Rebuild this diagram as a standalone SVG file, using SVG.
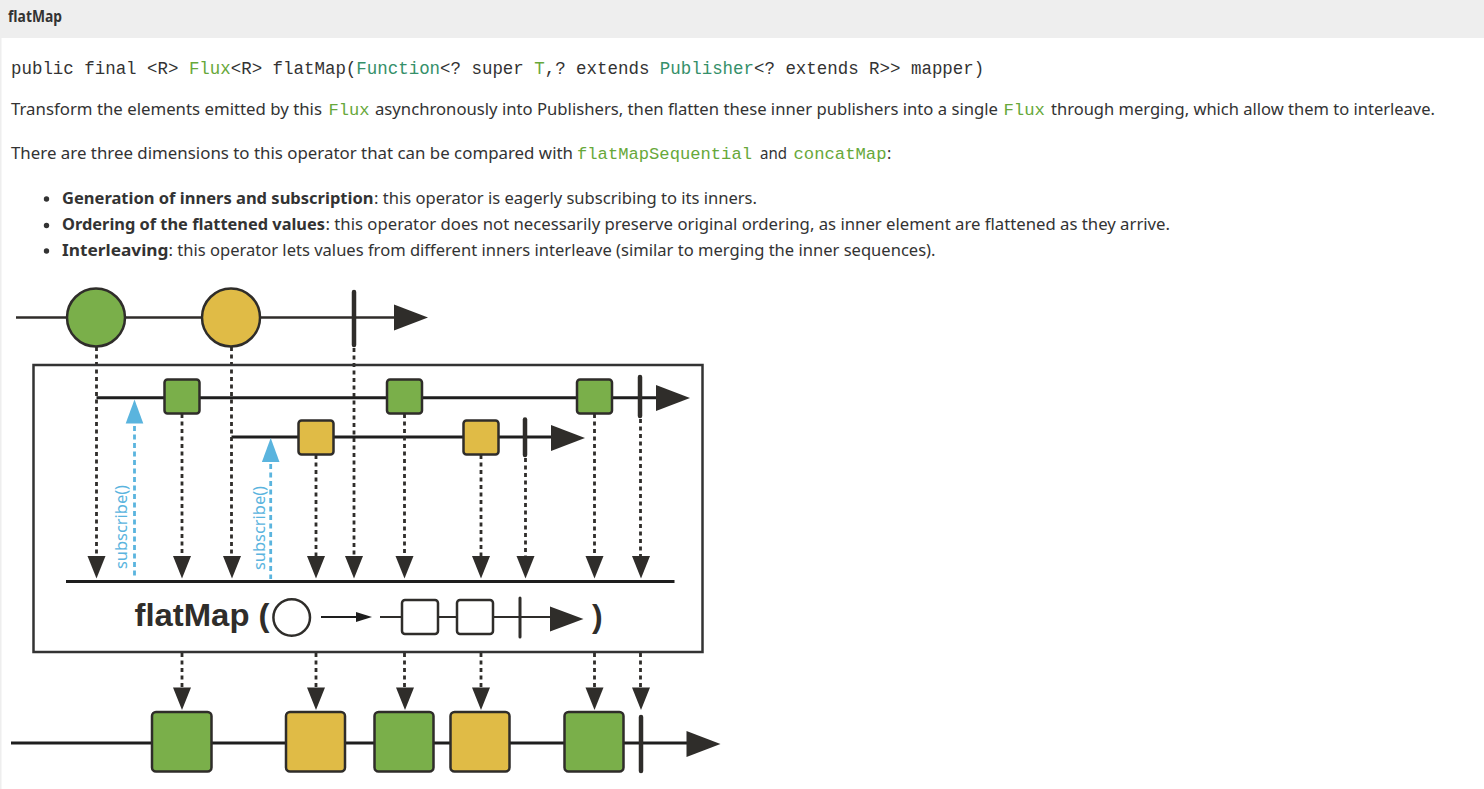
<svg xmlns="http://www.w3.org/2000/svg" width="1484" height="789" viewBox="0 0 1484 789">
  <style>
    .body { font-family: "Noto Sans", "Liberation Sans", sans-serif; font-size: 16px; fill: #333333; }
    .bold { font-weight: bold; }
    .code { font-family: "Liberation Mono", monospace; }
    .kw { fill: #333333; }
    .grn { fill: #67a83a; }
    .teal { fill: #35906a; }
    .tl { stroke: #1e1e1e; stroke-width: 3; fill: none; }
    .thin { stroke: #2f2d2a; stroke-width: 2.5; fill: none; }
    .dot { stroke: #2f2d2a; stroke-width: 2.8; stroke-dasharray: 4 3.5; fill: none; }
    .blue { stroke: #5ab4de; stroke-width: 2.8; stroke-dasharray: 5 3.5; fill: none; }
    .bar { stroke: #2f2d2a; stroke-width: 4.5; stroke-linecap: round; }
    .head { fill: #2f2d2a; }
    .g { fill: #7aaf4a; stroke: #2f2d2a; stroke-width: 2.5; }
    .y { fill: #e0bb46; stroke: #2f2d2a; stroke-width: 2.5; }
    .w { fill: #ffffff; stroke: #2f2d2a; stroke-width: 2.5; }
    .sub { font-family: "Noto Sans", "Liberation Sans", sans-serif; font-size: 16.5px; fill: #5ab4de; }
    .big { font-family: "Liberation Sans", sans-serif; font-weight: bold; font-size: 32px; fill: #2f2d2a; }
  </style>
  <defs>
    <!-- downward arrowhead, tip at origin -->
    <path id="down" d="M-9,-22.5 L9,-22.5 L0,0 Z" class="head"/>
    <!-- upward subscribe arrowhead, tip at origin -->
    <path id="up" d="M-8.8,24 L8.8,24 L0,0 Z" fill="#5ab4de"/>
    <!-- rightward timeline arrowhead, tip at origin -->
    <path id="right" d="M-34,-13 L-34,13 L0,0 Z" class="head"/>
  </defs>

  <rect width="1484" height="789" fill="#ffffff"/>

  <!-- page header -->
  <g id="header">
    <rect x="0" y="0" width="1484" height="38" fill="#eeeeee"/>
    <rect x="0" y="38" width="1.5" height="751" fill="#eeeeee"/>
    <text x="8" y="22" class="body bold" font-size="15" textLength="54" lengthAdjust="spacingAndGlyphs">flatMap</text>
  </g>

  <!-- method signature and description -->
  <g id="description">
    <text x="11" y="74" class="code kw" font-size="17.45">public final &lt;R&gt; <tspan class="grn">Flux</tspan>&lt;R&gt; flatMap(<tspan class="teal">Function</tspan>&lt;? super <tspan class="grn">T</tspan>,? extends <tspan class="teal">Publisher</tspan>&lt;? extends R&gt;&gt; mapper)</text>

    <text x="11" y="115" class="body" textLength="311" lengthAdjust="spacingAndGlyphs">Transform the elements emitted by this</text>
    <text x="328.5" y="115" class="code grn" font-size="17" textLength="41" lengthAdjust="spacingAndGlyphs">Flux</text>
    <text x="375" y="115" class="body" textLength="623" lengthAdjust="spacingAndGlyphs">asynchronously into Publishers, then flatten these inner publishers into a single</text>
    <text x="1003.5" y="115" class="code grn" font-size="17" textLength="41.5" lengthAdjust="spacingAndGlyphs">Flux</text>
    <text x="1051" y="115" class="body" textLength="384" lengthAdjust="spacingAndGlyphs">through merging, which allow them to interleave.</text>

    <text x="11" y="158.5" class="body" textLength="562" lengthAdjust="spacingAndGlyphs">There are three dimensions to this operator that can be compared with</text>
    <text x="577" y="158.5" class="code grn" font-size="17.2" textLength="175" lengthAdjust="spacingAndGlyphs">flatMapSequential</text>
    <text x="760" y="158.5" class="body" textLength="27" lengthAdjust="spacingAndGlyphs">and</text>
    <text x="793.5" y="158.5" class="code grn" font-size="17.2" textLength="93" lengthAdjust="spacingAndGlyphs">concatMap</text>
    <text x="887" y="158.5" class="body">:</text>

    <circle cx="46.5" cy="199" r="2.7" fill="#333333"/>
    <text x="62" y="203.5" class="body bold" textLength="311.5" lengthAdjust="spacingAndGlyphs">Generation of inners and subscription</text>
    <text x="374" y="203.5" class="body" textLength="383" lengthAdjust="spacingAndGlyphs">: this operator is eagerly subscribing to its inners.</text>

    <circle cx="46.5" cy="225.5" r="2.7" fill="#333333"/>
    <text x="62" y="230" class="body bold" textLength="263" lengthAdjust="spacingAndGlyphs">Ordering of the flattened values</text>
    <text x="325.5" y="230" class="body" textLength="844.5" lengthAdjust="spacingAndGlyphs">: this operator does not necessarily preserve original ordering, as inner element are flattened as they arrive.</text>

    <circle cx="46.5" cy="251" r="2.7" fill="#333333"/>
    <text x="62" y="255.5" class="body bold" textLength="106.5" lengthAdjust="spacingAndGlyphs">Interleaving</text>
    <text x="168.5" y="255.5" class="body" textLength="767" lengthAdjust="spacingAndGlyphs">: this operator lets values from different inners interleave (similar to merging the inner sequences).</text>
  </g>

  <!-- connectors: timelines, dotted projections, subscribe calls -->
  <g id="connectors">
    <!-- source timeline -->
    <line x1="16" y1="317.5" x2="396" y2="317.5" class="thin"/>
    <use href="#right" x="428" y="317.5"/>

    <!-- inner timelines -->
    <line x1="96.5" y1="397.7" x2="658" y2="397.7" class="tl"/>
    <use href="#right" x="690" y="398"/>
    <line x1="231.5" y1="437" x2="553" y2="437" class="tl"/>
    <use href="#right" x="585" y="438"/>

    <!-- collector line -->
    <line x1="66" y1="581.5" x2="674.5" y2="581.5" class="tl"/>

    <!-- result timeline -->
    <line x1="11" y1="743" x2="688" y2="743" class="tl"/>
    <use href="#right" x="720.5" y="744"/>

    <!-- dotted projections to collector -->
    <line x1="96.5" y1="347" x2="96.5" y2="556" class="dot"/>
    <line x1="231.5" y1="347" x2="231.5" y2="556" class="dot"/>
    <line x1="354" y1="348" x2="354" y2="556" class="dot"/>
    <line x1="182" y1="414" x2="182" y2="556" class="dot"/>
    <line x1="404.5" y1="414" x2="404.5" y2="556" class="dot"/>
    <line x1="594.5" y1="414" x2="594.5" y2="556" class="dot"/>
    <line x1="640.5" y1="419" x2="640.5" y2="556" class="dot"/>
    <line x1="316" y1="455" x2="316" y2="556" class="dot"/>
    <line x1="481" y1="455" x2="481" y2="556" class="dot"/>
    <line x1="525.5" y1="458" x2="525.5" y2="556" class="dot"/>

    <use href="#down" x="96.5" y="578.5"/>
    <use href="#down" x="182" y="578.5"/>
    <use href="#down" x="232" y="578.5"/>
    <use href="#down" x="316" y="578.5"/>
    <use href="#down" x="354" y="578.5"/>
    <use href="#down" x="404.5" y="578.5"/>
    <use href="#down" x="481" y="578.5"/>
    <use href="#down" x="525.5" y="578.5"/>
    <use href="#down" x="594.5" y="578.5"/>
    <use href="#down" x="641" y="578.5"/>

    <!-- dotted projections to result -->
    <line x1="182" y1="653" x2="182" y2="688" class="dot"/>
    <line x1="316" y1="653" x2="316" y2="688" class="dot"/>
    <line x1="404.5" y1="653" x2="404.5" y2="688" class="dot"/>
    <line x1="481" y1="653" x2="481" y2="688" class="dot"/>
    <line x1="594.5" y1="653" x2="594.5" y2="688" class="dot"/>
    <line x1="640.5" y1="653" x2="640.5" y2="688" class="dot"/>

    <use href="#down" x="182" y="710"/>
    <use href="#down" x="316" y="710"/>
    <use href="#down" x="405" y="710"/>
    <use href="#down" x="481" y="710"/>
    <use href="#down" x="594.5" y="710"/>
    <use href="#down" x="641" y="710"/>

    <!-- subscribe calls -->
    <line x1="134.5" y1="426" x2="134.5" y2="579" class="blue"/>
    <use href="#up" x="134.5" y="399.5"/>
    <line x1="270.7" y1="464" x2="270.7" y2="579" class="blue"/>
    <use href="#up" x="270.7" y="438"/>
    <text class="sub" transform="translate(126.5,569) rotate(-90)" textLength="84" lengthAdjust="spacingAndGlyphs">subscribe()</text>
    <text class="sub" transform="translate(265,570) rotate(-90)" textLength="84" lengthAdjust="spacingAndGlyphs">subscribe()</text>
  </g>

  <!-- operator frame -->
  <g id="operator-box">
    <rect x="33.5" y="365" width="669" height="287" fill="none" stroke="#333333" stroke-width="2.5"/>
  </g>

  <!-- source emissions -->
  <g id="source">
    <circle cx="96" cy="317.5" r="29" class="g"/>
    <circle cx="231" cy="317.5" r="29" class="y"/>
    <line x1="354" y1="292" x2="354" y2="345" class="bar"/>
  </g>

  <!-- first inner publisher (green) -->
  <g id="inner-green">
    <rect x="164.5" y="379.5" width="35" height="34" rx="3" class="g"/>
    <rect x="387" y="379.5" width="35" height="34" rx="3" class="g"/>
    <rect x="577" y="379.5" width="35" height="34" rx="3" class="g"/>
    <line x1="640" y1="377" x2="640" y2="416" class="bar"/>
  </g>

  <!-- second inner publisher (yellow) -->
  <g id="inner-yellow">
    <rect x="298.5" y="420.5" width="35" height="34" rx="3" class="y"/>
    <rect x="463.5" y="420.5" width="35" height="34" rx="3" class="y"/>
    <line x1="525" y1="419.5" x2="525" y2="455" class="bar"/>
  </g>

  <!-- operator label -->
  <g id="label">
    <text x="134.5" y="626" class="big" textLength="135" lengthAdjust="spacingAndGlyphs">flatMap (</text>
    <circle cx="291.7" cy="617.5" r="18.3" class="w"/>
    <line x1="321" y1="617" x2="360" y2="617" stroke="#1e1e1e" stroke-width="1.8"/>
    <path d="M356,612 L372,617 L356,622 Z" fill="#1e1e1e"/>
    <line x1="380" y1="617" x2="551" y2="617" stroke="#2f2d2a" stroke-width="2"/>
    <rect x="402" y="600" width="36" height="34" rx="3" class="w"/>
    <rect x="457" y="600" width="36" height="34" rx="3" class="w"/>
    <line x1="520" y1="598" x2="520" y2="637" stroke="#2f2d2a" stroke-width="3" stroke-linecap="round"/>
    <path d="M550,606.5 L583.5,619 L550,631.5 Z" class="head"/>
    <text x="592" y="627" class="big">)</text>
  </g>

  <!-- flattened result -->
  <g id="result">
    <rect x="152" y="712" width="59.5" height="59.5" rx="4" class="g"/>
    <rect x="286" y="712" width="59" height="59.5" rx="4" class="y"/>
    <rect x="374.5" y="712" width="59" height="59.5" rx="4" class="g"/>
    <rect x="450.5" y="712" width="59" height="59.5" rx="4" class="y"/>
    <rect x="564.5" y="712" width="59" height="59.5" rx="4" class="g"/>
    <line x1="641" y1="717" x2="641" y2="771" class="bar"/>
  </g>
</svg>
